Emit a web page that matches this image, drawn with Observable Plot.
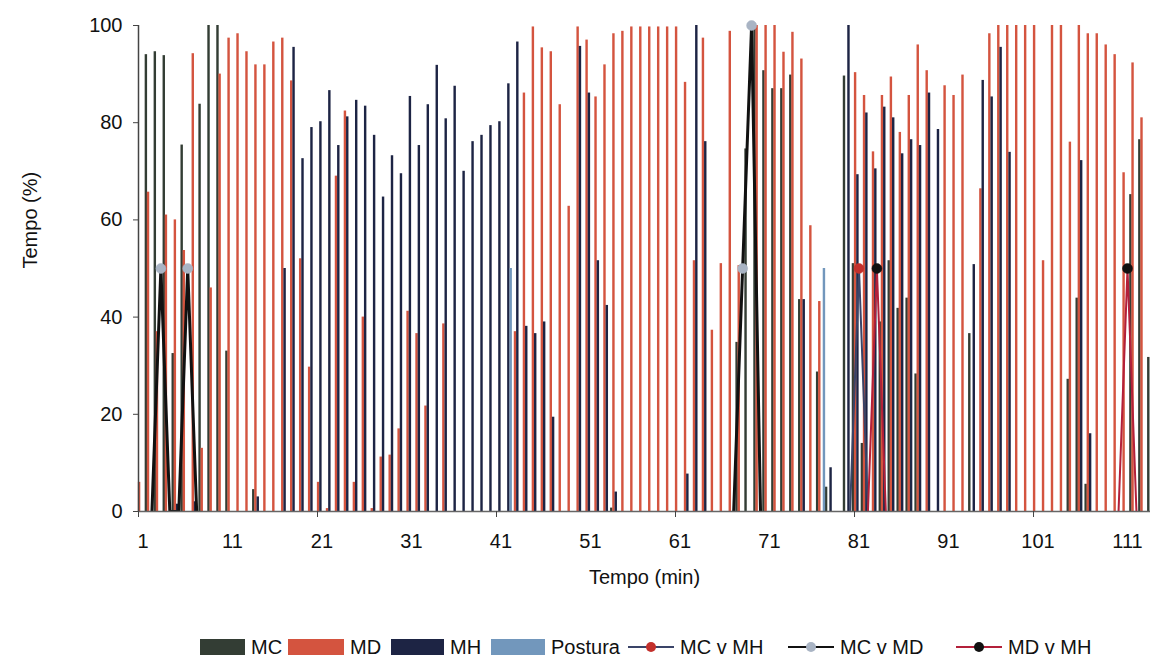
<!DOCTYPE html>
<html>
<head>
<meta charset="utf-8">
<script src="https://cdn.jsdelivr.net/npm/d3@7"></script>
<script src="https://cdn.jsdelivr.net/npm/@observablehq/plot@0.6"></script>
<style>
  body { margin: 0; background: #fff; font-family: "Liberation Sans", Arial, sans-serif; }
  #wrap { position: relative; width: 1152px; height: 662px; overflow: hidden; }
  #chart { position: absolute; left: 0; top: 0; }
  #legend { position: absolute; left: 0; top: 634px; width: 1152px; height: 26px; }
  .li { position: absolute; top: 0; height: 26px; display: flex; align-items: center; font-size: 20px; color: #111; white-space: nowrap; }
  .sw { height: 16px; margin-right: 6px; }
  .ln { position: relative; width: 46px; height: 26px; margin-right: 6px; }
  .ln .bar { position: absolute; left: 0; right: 0; top: 12px; height: 2px; }
  .ln .dt { position: absolute; left: 18px; top: 8px; width: 10px; height: 10px; border-radius: 50%; }
</style>
</head>
<body>
<div id="wrap">
  <div id="chart"></div>
  <div id="legend"></div>
</div>
<script>
// ---- categories ----
const minutes = d3.range(1, 114); // 1..113 minutes
const xTickLabels = [1, 11, 21, 31, 41, 51, 61, 71, 81, 91, 101, 111];
const yTicks = [0, 20, 40, 60, 80, 100];

// ---- bar series (Tempo %, one value per minute) ----
const MC = [
  94, 94.6, 93.8, 32.5, 75.4, 0, 83.8, 100, 100, 33,
  0, 0, 4.5, 0, 0, 0, 0, 0, 0, 0,
  0, 0, 0, 0, 0, 0, 0, 0, 0, 0,
  0, 0, 0, 0, 0, 0, 0, 0, 0, 0,
  0, 0, 0, 0, 0, 0, 0, 0, 0, 0,
  0, 0, 0.7, 0, 0, 0, 0, 0, 0, 0,
  0, 0, 0, 0, 0, 0, 34.8, 74.6, 100, 90.7,
  87, 87, 89.8, 43.6, 0, 28.7, 5, 0, 89.6, 51,
  14, 0, 39, 51.6, 41.8, 43.9, 28.3, 0, 0, 0,
  0, 0, 36.6, 0, 0, 0, 0, 0, 0, 0,
  0, 0, 0, 27.2, 43.9, 5.6, 0, 0, 0, 0,
  65.2, 76.5, 31.7
];
const MD = [
  6, 65.7, 37, 61, 60, 53.7, 94.2, 13, 46, 90,
  97.4, 98.3, 94.6, 91.9, 91.9, 96.6, 97.4, 88.6, 52, 29.7,
  6, 0.6, 69, 82.4, 6, 40, 0.6, 11.2, 11.6, 17,
  41.2, 36.6, 21.7, 0, 38.6, 0, 0, 0, 0, 0,
  0, 0, 37, 86.1, 99.7, 95.4, 94.6, 83.7, 62.8, 99.7,
  97, 85.3, 91.9, 98.3, 98.8, 99.7, 99.7, 99.7, 99.7, 99.7,
  99.7, 88.3, 51.6, 97.4, 37.3, 51, 98.8, 50.6, 0, 100,
  100, 100, 94.5, 98.6, 93.1, 58.8, 43.2, 0, 0, 0,
  90.3, 85.6, 74, 85.6, 89.4, 78, 85.6, 96, 90.7, 0,
  87.6, 85.6, 89.8, 0, 66.4, 98.3, 100, 100, 100, 100,
  100, 51.6, 100, 100, 76, 100, 98.3, 98.3, 96, 94,
  69.7, 92.3, 81
];
const MH = [
  0, 0, 0, 0, 1.5, 0, 2, 0, 0, 0,
  0, 0, 0, 3, 0, 0, 50, 95.5, 72.6, 79,
  80.2, 86.6, 75.3, 81.2, 84.6, 83.4, 77.4, 64.7, 73.2, 69.5,
  85.4, 75.3, 83.7, 91.8, 80.8, 87.5, 70, 76.1, 77.4, 79.4,
  80.2, 88, 96.6, 38.1, 36.6, 39, 19.4, 0, 0, 95.7,
  86.1, 51.6, 42.4, 4, 0, 0, 0, 0, 0, 0,
  0, 7.7, 100, 76.1, 0, 0, 0, 0, 0, 0,
  0, 0, 0, 0, 43.6, 0, 0, 9, 0, 100,
  69.3, 82, 70.5, 83.2, 81, 73.6, 76.5, 75.3, 86.1, 78.6,
  0, 0, 0, 50.8, 88.7, 85.3, 95.5, 73.9, 0, 0,
  0, 0, 0, 0, 0, 72.2, 16, 0, 0, 0,
  0, 0, 0
];
const Postura = [
  0, 0, 0, 0, 0, 0, 0, 0, 0, 0,
  0, 0, 0, 0, 0, 0, 0, 0, 0, 0,
  0, 0, 0, 0, 0, 0, 0, 0, 0, 0,
  0, 0, 0, 0, 0, 0, 0, 0, 0, 0,
  0, 50, 0, 0, 0, 0, 0, 0, 0, 0,
  0, 0, 0, 0, 0, 0, 0, 0, 0, 0,
  0, 0, 0, 0, 0, 0, 0, 0, 0, 0,
  0, 0, 0, 0, 0, 0, 50, 0, 0, 0,
  0, 0, 0, 0, 0, 0, 0, 0, 0, 0,
  0, 0, 0, 0, 0, 0, 0, 0, 0, 0,
  0, 0, 0, 0, 0, 0, 0, 0, 0, 0,
  0, 0, 0
];

// ---- line series ----
const MCvMH = [
  0, 0, 0, 0, 0, 0, 0, 0, 0, 0,
  0, 0, 0, 0, 0, 0, 0, 0, 0, 0,
  0, 0, 0, 0, 0, 0, 0, 0, 0, 0,
  0, 0, 0, 0, 0, 0, 0, 0, 0, 0,
  0, 0, 0, 0, 0, 0, 0, 0, 0, 0,
  0, 0, 0, 0, 0, 0, 0, 0, 0, 0,
  0, 0, 0, 0, 0, 0, 0, 0, 0, 0,
  0, 0, 0, 0, 0, 0, 0, 0, 0, 0,
  50, 0, 0, 0, 0, 0, 0, 0, 0, 0,
  0, 0, 0, 0, 0, 0, 0, 0, 0, 0,
  0, 0, 0, 0, 0, 0, 0, 0, 0, 0,
  0, 0, 0
];
const MCvMD = [
  0, 0, 50, 0, 0, 50, 0, 0, 0, 0,
  0, 0, 0, 0, 0, 0, 0, 0, 0, 0,
  0, 0, 0, 0, 0, 0, 0, 0, 0, 0,
  0, 0, 0, 0, 0, 0, 0, 0, 0, 0,
  0, 0, 0, 0, 0, 0, 0, 0, 0, 0,
  0, 0, 0, 0, 0, 0, 0, 0, 0, 0,
  0, 0, 0, 0, 0, 0, 0, 50, 100, 0,
  0, 0, 0, 0, 0, 0, 0, 0, 0, 0,
  0, 0, 0, 0, 0, 0, 0, 0, 0, 0,
  0, 0, 0, 0, 0, 0, 0, 0, 0, 0,
  0, 0, 0, 0, 0, 0, 0, 0, 0, 0,
  0, 0, 0
];
const MDvMH = [
  0, 0, 0, 0, 0, 0, 0, 0, 0, 0,
  0, 0, 0, 0, 0, 0, 0, 0, 0, 0,
  0, 0, 0, 0, 0, 0, 0, 0, 0, 0,
  0, 0, 0, 0, 0, 0, 0, 0, 0, 0,
  0, 0, 0, 0, 0, 0, 0, 0, 0, 0,
  0, 0, 0, 0, 0, 0, 0, 0, 0, 0,
  0, 0, 0, 0, 0, 0, 0, 0, 0, 0,
  0, 0, 0, 0, 0, 0, 0, 0, 0, 0,
  0, 0, 50, 0, 0, 0, 0, 0, 0, 0,
  0, 0, 0, 0, 0, 0, 0, 0, 0, 0,
  0, 0, 0, 0, 0, 0, 0, 0, 0, 0,
  50, 0, 0
];

// ---- styles ----
const barSeries = [
  {name: "MC", values: MC, color: "#333d34", offset: 0.38},
  {name: "MD", values: MD, color: "#d4543f", offset: -0.38},
  {name: "MH", values: MH, color: "#1d2444", offset: -0.12},
  {name: "Postura", values: Postura, color: "#7297bc", offset: 0.14}
];
const lineSeries = [
  {name: "MC v MH", values: MCvMH, stroke: "#3a4468", dot: "#c3302c", width: 2},
  {name: "MC v MD", values: MCvMD, stroke: "#111111", dot: "#a9b4c4", width: 3},
  {name: "MD v MH", values: MDvMH, stroke: "#b3203a", dot: "#111111", width: 2}
];
const barW = 0.27;

// ---- build tables ----
const barRows = [];
barSeries.forEach(s => s.values.forEach((v, i) => {
  if (v > 0) barRows.push({minute: minutes[i], series: s.name, value: v, offset: s.offset});
}));

const lineMarks = [];
lineSeries.forEach(s => {
  const pts = s.values.map((v, i) => {
    const near = v > 0 || (s.values[i - 1] || 0) > 0 || (s.values[i + 1] || 0) > 0;
    return {minute: minutes[i], value: near ? v : NaN};
  });
  lineMarks.push(Plot.line(pts, {x: "minute", y: "value", stroke: s.stroke, strokeWidth: s.width, clip: true}));
});
lineSeries.forEach(s => {
  const pts = s.values.map((v, i) => ({minute: minutes[i], value: v})).filter(d => d.value > 0);
  lineMarks.push(Plot.dot(pts, {x: "minute", y: "value", r: 5, fill: s.dot, stroke: s.dot, strokeWidth: 0.5}));
});

const chart = Plot.plot({
  width: 1152,
  height: 620,
  marginLeft: 138,
  marginRight: 2,
  marginTop: 25,
  marginBottom: 109,
  style: {fontFamily: "'Liberation Sans', Arial, sans-serif", fontSize: "20px", color: "#111", background: "#fff"},
  x: {type: "linear", domain: [0.5, 113.57]},
  y: {domain: [0, 100]},
  color: {domain: barSeries.map(s => s.name), range: barSeries.map(s => s.color)},
  marks: [
    Plot.rectY(barRows, {
      x1: d => d.minute + d.offset - barW / 2,
      x2: d => d.minute + d.offset + barW / 2,
      y: "value",
      fill: "series"
    }),
    ...lineMarks,
    Plot.ruleY([0], {stroke: "#666", strokeWidth: 1.5}),
    Plot.ruleX([0.5], {y1: 0, y2: 100, stroke: "#444", strokeWidth: 1.5}),
    Plot.axisY({ticks: yTicks, tickSize: 5, tickPadding: 11, label: null, fontSize: 20, stroke: "#444"}),
    Plot.axisX({ticks: xTickLabels, tickSize: 0, tickPadding: 22, label: null, fontSize: 20, tickFormat: d => String(d)}),
    Plot.axisX({ticks: [0.5, 20.5, 40.5, 60.5, 80.5, 100.5], tickSize: 6, tickFormat: () => "", label: null, stroke: "#444"}),
    Plot.text(["Tempo (min)"], {frameAnchor: "bottom", dy: 72, fontSize: 20, fill: "#111"}),
    Plot.text(["Tempo (%)"], {frameAnchor: "left", dx: -108, rotate: -90, fontSize: 20, fill: "#111"})
  ]
});
document.getElementById("chart").appendChild(chart);

// ---- legend ----
const legend = document.getElementById("legend");
const legendPos = {
  "MC": {left: 200, w: 45},
  "MD": {left: 288, w: 56},
  "MH": {left: 391, w: 53},
  "Postura": {left: 491, w: 54},
  "MC v MH": {left: 628},
  "MC v MD": {left: 788},
  "MD v MH": {left: 956}
};
barSeries.forEach(s => {
  const p = legendPos[s.name];
  const el = document.createElement("div");
  el.className = "li";
  el.style.left = p.left + "px";
  el.innerHTML = `<span class="sw" style="width:${p.w}px;background:${s.color}"></span><span>${s.name}</span>`;
  legend.appendChild(el);
});
lineSeries.forEach(s => {
  const p = legendPos[s.name];
  const el = document.createElement("div");
  el.className = "li";
  el.style.left = p.left + "px";
  el.innerHTML = `<span class="ln"><span class="bar" style="background:${s.stroke}"></span><span class="dt" style="background:${s.dot}"></span></span><span>${s.name}</span>`;
  legend.appendChild(el);
});
</script>
</body>
</html>
